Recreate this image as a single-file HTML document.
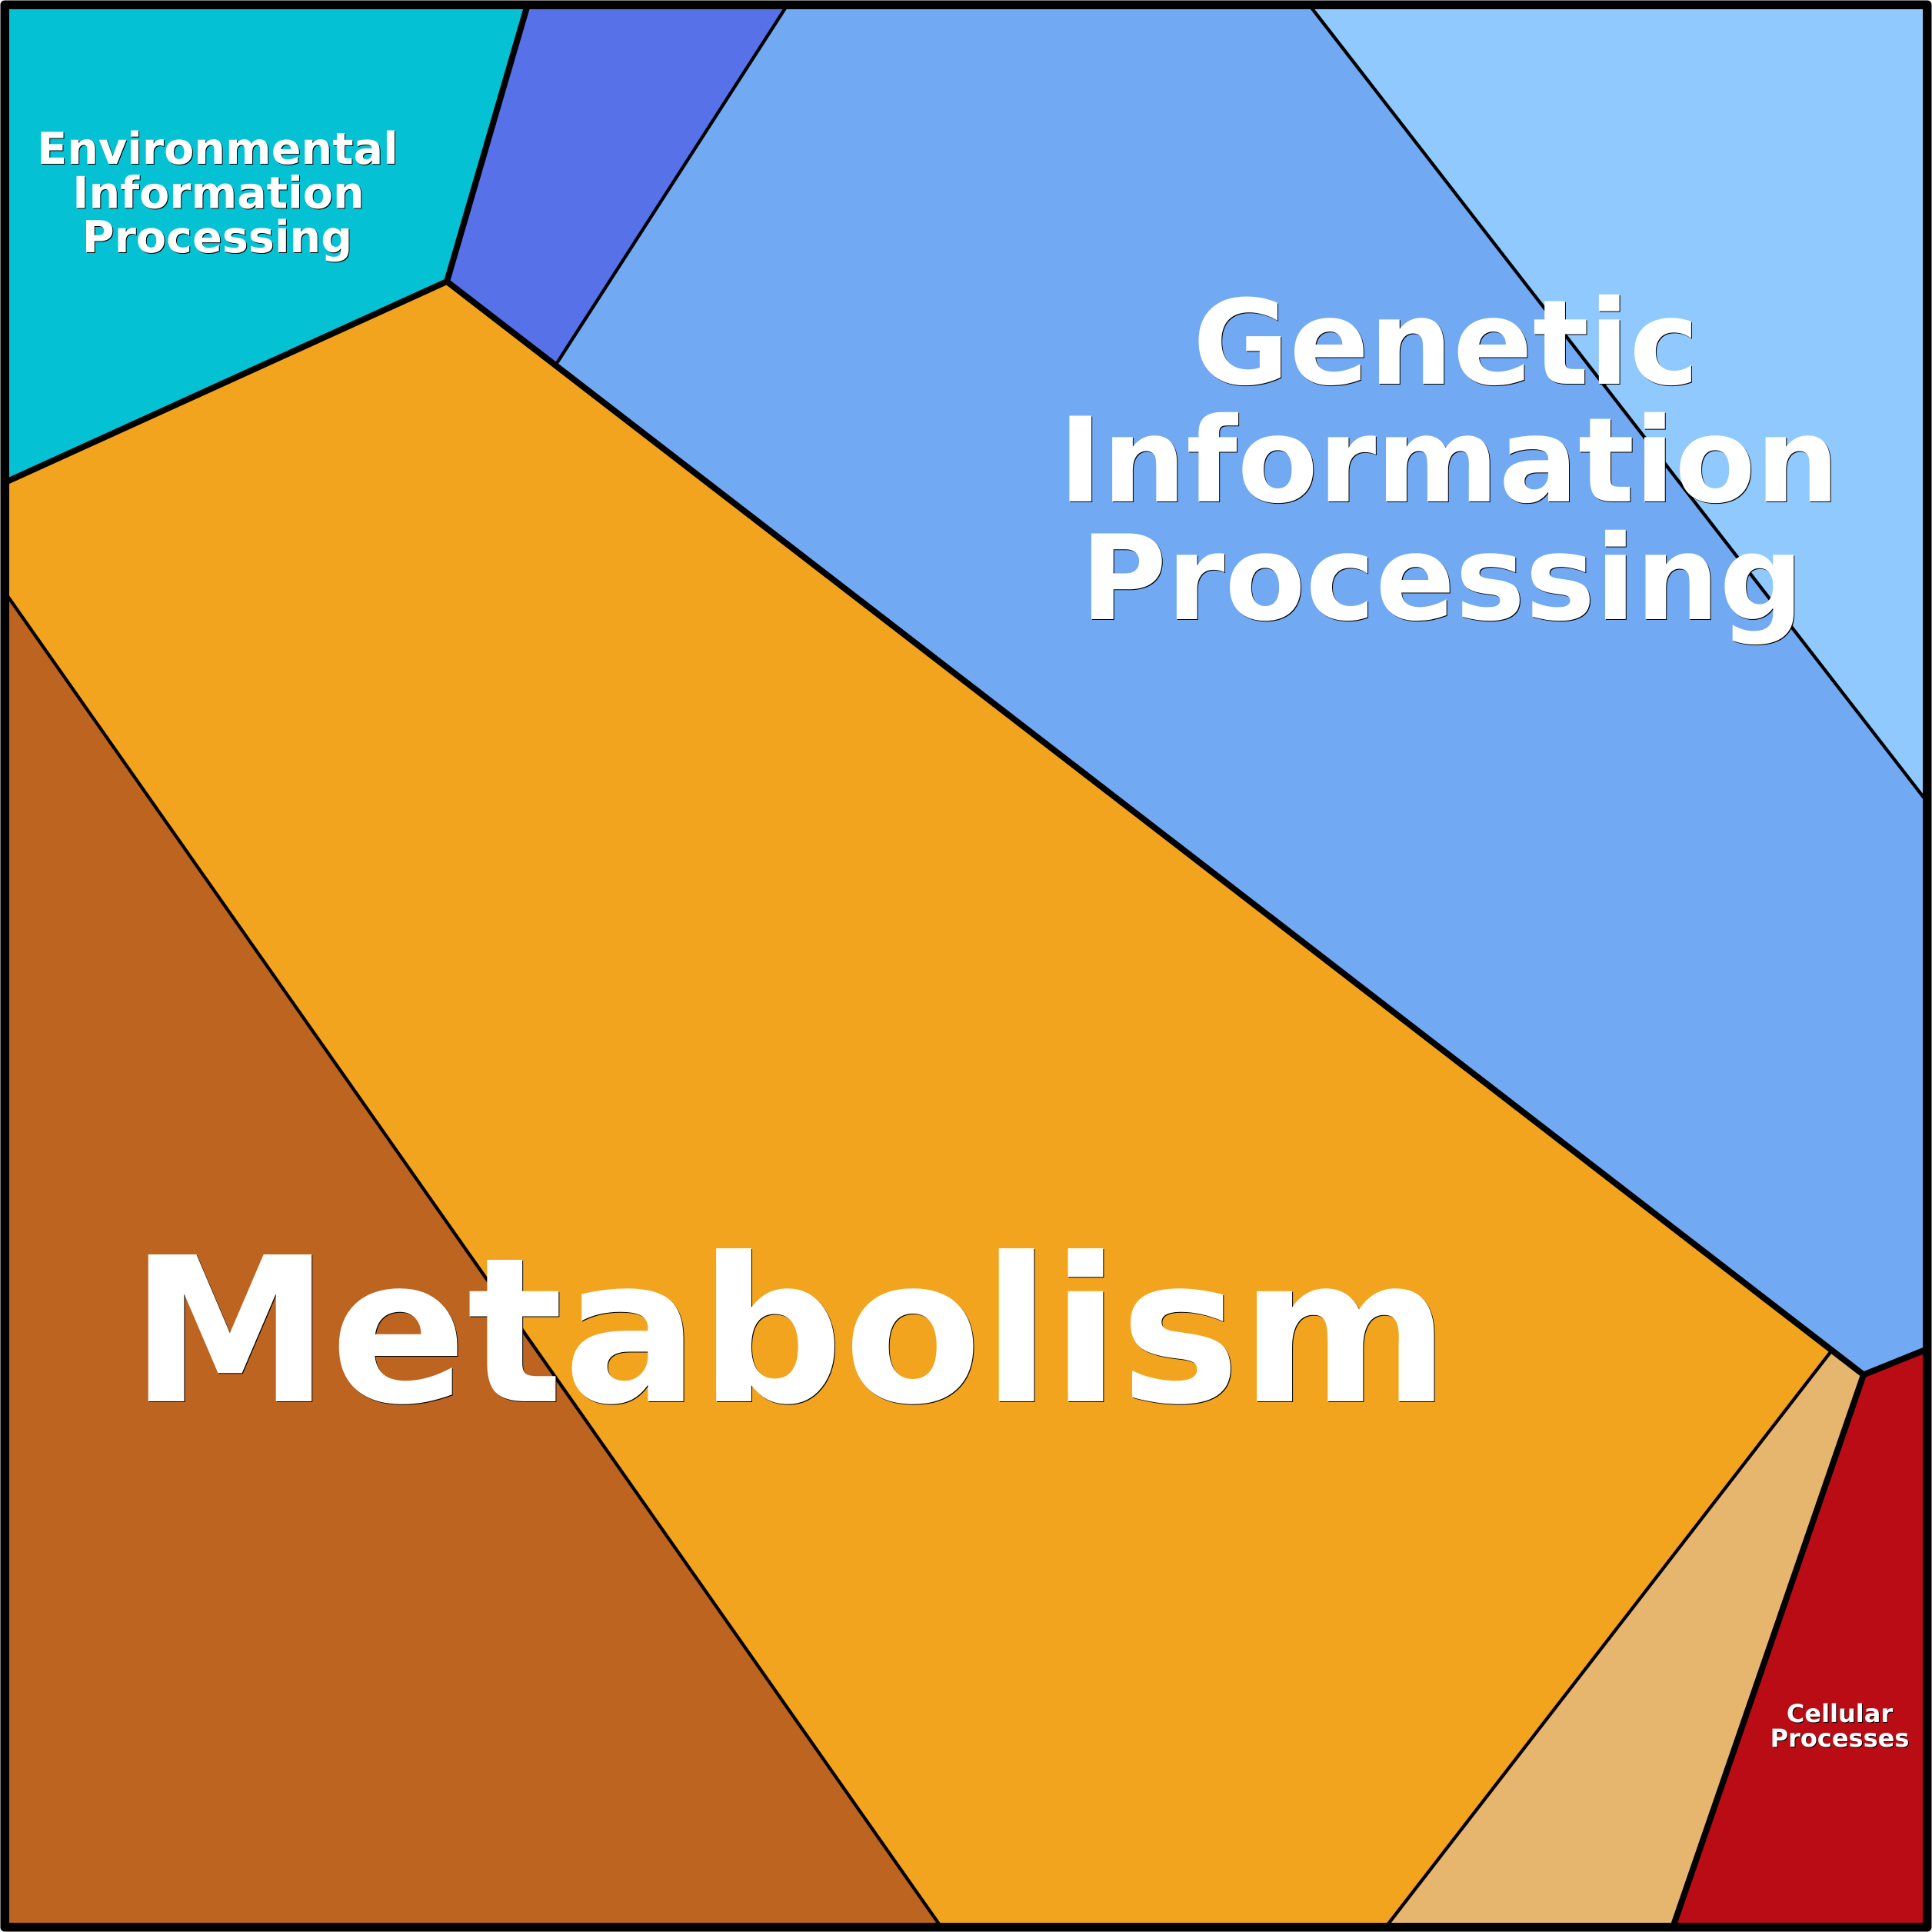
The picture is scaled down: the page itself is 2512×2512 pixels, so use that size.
<!DOCTYPE html>
<html>
<head>
<meta charset="utf-8">
<title>Functional category Voronoi treemap</title>
<style>
html,body{margin:0;padding:0;background:#fff;width:2512px;height:2512px;overflow:hidden}
svg{display:block}
text{font-family:"DejaVu Sans","Liberation Sans",sans-serif;font-weight:bold;fill:#fff;text-anchor:middle;filter:drop-shadow(1.5px 1.5px 0 #000)}
</style>
</head>
<body>
<svg width="2512" height="2512" viewBox="0 0 2512 2512" xmlns="http://www.w3.org/2000/svg">
<polygon points="6,6 686,6 581,366 6,627.5" fill="#04c2d4"/>
<polygon points="686,6 1024,6 723.5,473 581,366" fill="#5771e9"/>
<polygon points="1024,6 1702,6 2506,1043 2506,1754 2423,1787.5 723.5,473" fill="#72a9f3"/>
<polygon points="1702,6 2506,6 2506,1043" fill="#90c9fd"/>
<polygon points="6,627.5 581,366 2380,1758 1801.5,2506 1224,2506 6,769.5" fill="#f2a41e"/>
<polygon points="6,769.5 1224,2506 6,2506" fill="#bd6420"/>
<polygon points="2380,1758 2423,1787.5 2175,2506 1801.5,2506" fill="#e7b66e"/>
<polygon points="2423,1787.5 2506,1754 2506,2506 2175,2506" fill="#b90c15"/>
<g fill="none" stroke="#000" stroke-width="4.3">
<line x1="1024" y1="6" x2="723.5" y2="473"/>
<line x1="1702" y1="6" x2="2506" y2="1043"/>
<line x1="6" y1="769.5" x2="1224" y2="2506"/>
<line x1="2380" y1="1758" x2="1801.5" y2="2506"/>
</g>
<g fill="none" stroke="#000" stroke-width="8" stroke-linejoin="round">
<polyline points="6,627.5 581,366 2423,1787.5 2506,1754"/>
<line x1="686" y1="6" x2="581" y2="366"/>
<line x1="2423" y1="1787.5" x2="2175" y2="2506"/>
</g>
<rect x="6.25" y="6.25" width="2499.5" height="2499.5" fill="none" stroke="#000" stroke-width="11.5" stroke-linejoin="round"/>
<text font-size="57.2"><tspan x="283" y="213">Environmental</tspan><tspan x="284" y="270.5">Information</tspan><tspan x="282.5" y="328">Processing</tspan></text>
<text font-size="153"><tspan x="1880" y="499">Genetic</tspan><tspan x="1884" y="652">Information</tspan><tspan x="1875" y="805">Processing</tspan></text>
<text font-size="262" x="1027" y="1822">Metabolism</text>
<text font-size="32"><tspan x="2392" y="2239">Cellular</tspan><tspan x="2392" y="2271">Processes</tspan></text>
</svg>
</body>
</html>
